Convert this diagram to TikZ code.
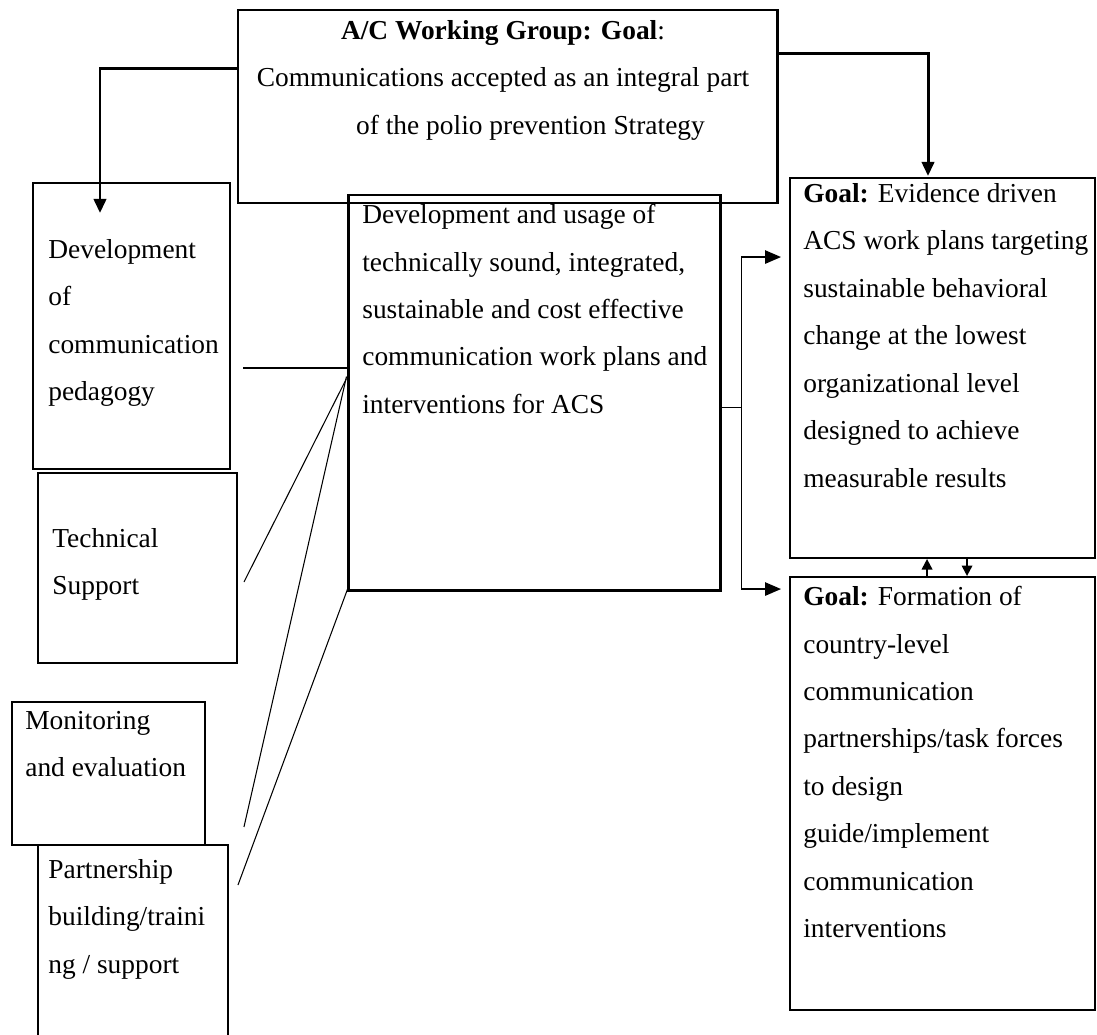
\documentclass[tikz,border=0pt]{standalone}
\usepackage{fontspec}
\setmainfont{Liberation Serif}
\usetikzlibrary{arrows.meta,positioning,calc,fit}

\tikzset{
  box/.style={draw, line width=1.1pt, inner sep=0pt},
  heavybox/.style={box, line width=1.7pt},
  txt/.style={anchor=north west, align=left, inner sep=0pt},
  link/.style={line width=0.6pt},
  feed/.style={line width=1.7pt, -{Triangle[length=8pt,width=7pt]}},
  outarrow/.style={line width=0.9pt, -{Triangle[length=9pt,width=7.5pt]}},
  pairarrow/.style={line width=1.1pt, -{Triangle[length=6pt,width=6pt]}}
}

\begin{document}
\begin{tikzpicture}[x=0.02cm, y=-0.02cm, font=\fontsize{15.6pt}{27pt}\selectfont]
  \useasboundingbox (0,0) rectangle (1097,1034);
  \clip (0,0) rectangle (1097,1034);

  % boxes
  \node[heavybox, fit={(238,10) (777,203)}] (goal) {};
  \node[heavybox, fit={(348,195) (720,590)}] (plans) {};
  \node[box, fit={(33,183) (230,469)}] (ped) {};
  \node[box, fit={(38,473) (237,663)}] (tech) {};
  \node[box, fit={(12,702) (205,845)}] (mon) {};
  \node[box, fit={(38,845) (228,1060)}] (part) {};
  \node[box, fit={(790,178) (1095,558)}] (evid) {};
  \node[box, fit={(790,577) (1095,1010)}] (forma) {};

  % texts
  \node[anchor=north, align=center, inner sep=0pt] (goaltxt) at (503,20)
    {\textbf{A/C Working Group: Goal}:\\
     Communications accepted as an integral part\\
     \hspace*{1.1cm}of the polio prevention Strategy};
  \node[txt] (pedtxt) at (48,239) {Development\\of\\communication\\pedagogy};
  \node[txt] (techtxt) at (52,528) {Technical\\Support};
  \node[txt] (montxt) at (25,711) {Monitoring\\and evaluation};
  \node[txt] (parttxt) at (48,859) {Partnership\\building/traini\\ng / support};
  \node[txt] (planstxt) at (362,204)
    {Development and usage of\\technically sound, integrated,\\sustainable and cost effective\\communication work plans and\\interventions for ACS};
  \node[txt] (evidtxt) at (803,183)
    {\textbf{Goal:} Evidence driven\\ACS work plans targeting\\sustainable behavioral\\change at the lowest\\organizational level\\designed to achieve\\measurable results};
  \node[txt] (formatxt) at (803,586)
    {\textbf{Goal:} Formation of\\country-level\\communication\\partnerships/task forces\\to design\\guide/implement\\communication\\interventions};

  % goal feeds
  \coordinate (pedtip) at (100,213);
  \coordinate (eviddrop) at (928,176);
  \draw[feed] ($(goal.north west)+(0,60)$) -| (pedtip);
  \draw[feed] ($(goal.north east)+(0,45)$) -| (eviddrop);

  % support links
  \coordinate (pedend) at (243,368);
  \draw[link] (pedend) -- (pedend -| plans.west);
  \draw[link] ($(plans.north west)+(0,185)$) -- ($(tech.east)+(6,14)$);
  \draw[link] ($(plans.north west)+(0,183)$) -- ($(mon.south east)+(38,-19)$);
  \draw[link] ($(plans.south west)+(2,-5)$) -- ($(part.north east)+(9,41)$);

  % outputs
  \draw[link] ($(plans.east)+(0,15)$) -- ++(20,0) coordinate (fork);
  \draw[outarrow] (fork) |- ($(evid.north west)+(-8,80)$);
  \draw[outarrow] (fork) |- ($(forma.north west)+(-8,13)$);
  \draw[pairarrow] ($(forma.north west)+(138,0)$) -- ($(evid.south west)+(138,0)$);
  \draw[pairarrow] ($(evid.south west)+(178,0)$) -- ($(forma.north west)+(178,0)$);
\end{tikzpicture}
\end{document}
